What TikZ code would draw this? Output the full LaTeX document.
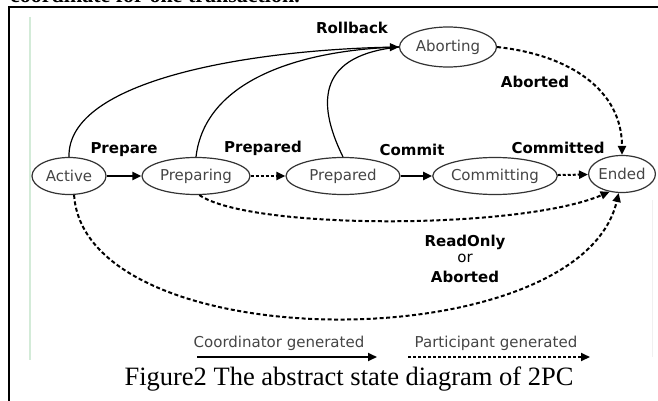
\documentclass[tikz,border=0pt]{standalone}
\usepackage{fontspec}
\setmainfont{Liberation Serif}
\newfontfamily\dv{DejaVu Sans}
\usetikzlibrary{arrows.meta,shapes.geometric}
\definecolor{edgegrey}{HTML}{333333}
\definecolor{textgrey}{HTML}{444444}
\definecolor{palegreen}{HTML}{D3EBD8}
\definecolor{palegrey}{HTML}{F0F0F0}
\begin{document}
\begin{tikzpicture}[x=1pt,y=-1pt,
  state/.style={ellipse,draw=edgegrey,line width=1.2pt,inner sep=0pt,
    minimum height=37pt,font=\dv\fontsize{15}{15}\selectfont,text=textgrey},
  lbl/.style={font=\dv\bfseries\fontsize{15}{15}\selectfont,text=black,inner sep=0pt},
  leg/.style={font=\dv\fontsize{15}{15}\selectfont,text=textgrey,inner sep=0pt},
  tip/.style={-{Triangle[length=9pt,width=8pt]}},
  coord/.style={tip,line width=2pt},
  part/.style={tip,line width=2pt,dash pattern=on 3pt off 2pt},
  partlong/.style={tip,line width=2pt,dash pattern=on 4pt off 2.5pt},
  rollback/.style={line width=1.2pt}]
\useasboundingbox (0,0) rectangle (658,401);

% frame, the end of the text line above it, and faint rules
\begin{scope}
  \clip (0,0) rectangle (658,4);
  \node[anchor=base west,inner sep=0pt,font=\bfseries\fontsize{22}{22}\selectfont] (headline) at (10,2.5) {coordinate for one transaction.};
\end{scope}
\draw[line width=2pt] (9,401) -- (9,7) -- (658,7);
\draw[palegreen,line width=2pt] (30,17) -- (30,360);
\draw[palegrey,line width=1pt] (652,200) -- (652,357);

% states
\node[state,minimum width=74pt]  (active)     at (69,176)  {Active};
\node[state,minimum width=108pt] (preparing)  at (196,176) {Preparing};
\node[state,minimum width=114pt] (prepared)   at (343,176) {Prepared};
\node[state,minimum width=116pt] (committing) at (495,176) {Committing};
\node[state,minimum width=60pt]  (ended)      at (622,174) {Ended};
\node[state,minimum width=97pt,minimum height=40pt] (aborting) at (448,47) {Aborting};

% main path
\draw[coord] (active) -- (preparing);
\draw[part] (preparing) -- (prepared);
\draw[coord] (prepared) -- (committing);
\draw[part] (committing) -- (ended);

% rollback transitions
\draw[rollback,tip] (active.north) .. controls (67,80) and (250,50) .. (aborting.west);
\draw[rollback] (preparing.north) .. controls (205,80) and (300,50) .. (aborting.west);
\draw[rollback] (prepared.north) .. controls (315,100) and (320,55) .. (aborting.west);

% abort, read-only and early-abort endings
\draw[partlong] (aborting.east) .. controls (570,55) and (622,90) .. (ended.north);
\draw[partlong] (preparing.-80) .. controls (250,230) and (520,230) .. (ended.-125);
\draw[partlong] (active.-75) .. controls (85,360) and (580,360) .. (ended.-100);

% labels
\node[lbl] (lrollback)  at (352,28)  {Rollback};
\node[lbl] (lprepare)   at (124,150) {Prepare};
\node[lbl] (lprepared)  at (263,148) {Prepared};
\node[lbl] (lcommit)    at (412,150) {Commit};
\node[lbl] (lcommitted) at (558,148) {Committed};
\node[lbl] (laborted)   at (535,82)  {Aborted};
\node[lbl] (lreadonly)  at (465,242) {ReadOnly};
\node[leg,text=black] (lor) at (465,258) {or};
\node[lbl] (laborted2)  at (465,277) {Aborted};

% legend
\node[leg] (legcoord) at (279,343) {Coordinator generated};
\node[leg] (legpart)  at (496,343) {Participant generated};
\coordinate (lc1) at (197,357);
\coordinate (lc2) at (377,357);
\coordinate (lp1) at (408,357);
\coordinate (lp2) at (590,357);
\draw[coord] (lc1) -- (lc2);
\draw[part] (lp1) -- (lp2);

% caption
\node[inner sep=0pt,font=\fontsize{26.5}{26.5}\selectfont,anchor=base] (caption) at (349,385) {Figure2 The abstract state diagram of 2PC};
\end{tikzpicture}
\end{document}
